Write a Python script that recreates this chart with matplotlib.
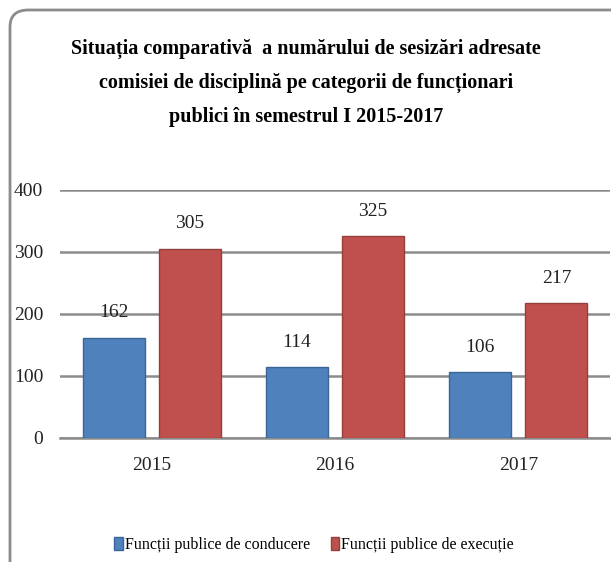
import matplotlib
matplotlib.use("Agg")
import matplotlib.pyplot as plt
from matplotlib.patches import FancyBboxPatch
import numpy as np

years = ["2015", "2016", "2017"]
conducere = [162, 114, 106]
executie = [305, 325, 217]
series_names = ["Funcții publice de conducere", "Funcții publice de execuție"]
yticks = [0, 100, 200, 300, 400]
title = ("Situația comparativă  a numărului de sesizări adresate\n"
         "comisiei de disciplină pe categorii de funcționari\n"
         "publici în semestrul I 2015-2017")

W, H = 611, 562
fig = plt.figure(figsize=(W / 100, H / 100), dpi=100)
plt.rcParams['font.family'] = ['Liberation Serif', 'DejaVu Serif']

# rounded chart border
border = FancyBboxPatch((10 / W, 1 - 580 / H), 640 / W, 570 / H,
                        boxstyle="round,pad=0,rounding_size=0.03",
                        transform=fig.transFigure, facecolor="none",
                        edgecolor="#8c8c8c", linewidth=2, zorder=-1)
fig.patches.append(border)

ax = fig.add_axes([60 / W, 1 - 438 / H, 550 / W, 248 / H])
ax.set_facecolor("none")
x = np.arange(len(years))
bw = 0.339
gap = 0.0765
off = (bw + gap) / 2
b1 = ax.bar(x - off, conducere, bw, color="#4F81BD", edgecolor="#3A6596",
            linewidth=1, label=series_names[0], zorder=3)
b2 = ax.bar(x + off, executie, bw, color="#C0504D", edgecolor="#93403D",
            linewidth=1, label=series_names[1], zorder=3)

for bars, vals in ((b1, conducere), (b2, executie)):
    for r, v in zip(bars, vals):
        ax.annotate(str(v), (r.get_x() + r.get_width() / 2, v),
                    xytext=(0, 18), textcoords="offset points",
                    ha="center", va="center", fontsize=14, color="#222222")

ax.set_xlim(-0.5, 2.5)
ax.set_ylim(0, 400)
ax.set_yticks(yticks)
ax.set_xticks(x)
ax.set_xticklabels(years)
ax.tick_params(axis="both", length=0, labelsize=14, colors="#222222")
ax.tick_params(axis="y", pad=12)
ax.tick_params(axis="x", pad=14)
ax.yaxis.grid(True, color="#8c8c8c", linewidth=1.8, zorder=0)
ax.set_axisbelow(True)
for s in ("left", "right", "top"):
    ax.spines[s].set_visible(False)
ax.spines["bottom"].set_color("#8c8c8c")
ax.spines["bottom"].set_linewidth(1.8)

fig.text(306 / W, 1 - 83 / H, title, ha="center", va="center",
         fontsize=14.5, fontweight="bold", linespacing=1.95, color="black")

fig.legend(handles=[b1, b2], labels=series_names, loc="center",
           bbox_to_anchor=(314 / W, 1 - 545 / H), ncol=2, frameon=False,
           fontsize=11.5, handlelength=0.55, handleheight=0.9,
           handletextpad=0.1, columnspacing=1.3)

fig.savefig("out.png", dpi=100)
